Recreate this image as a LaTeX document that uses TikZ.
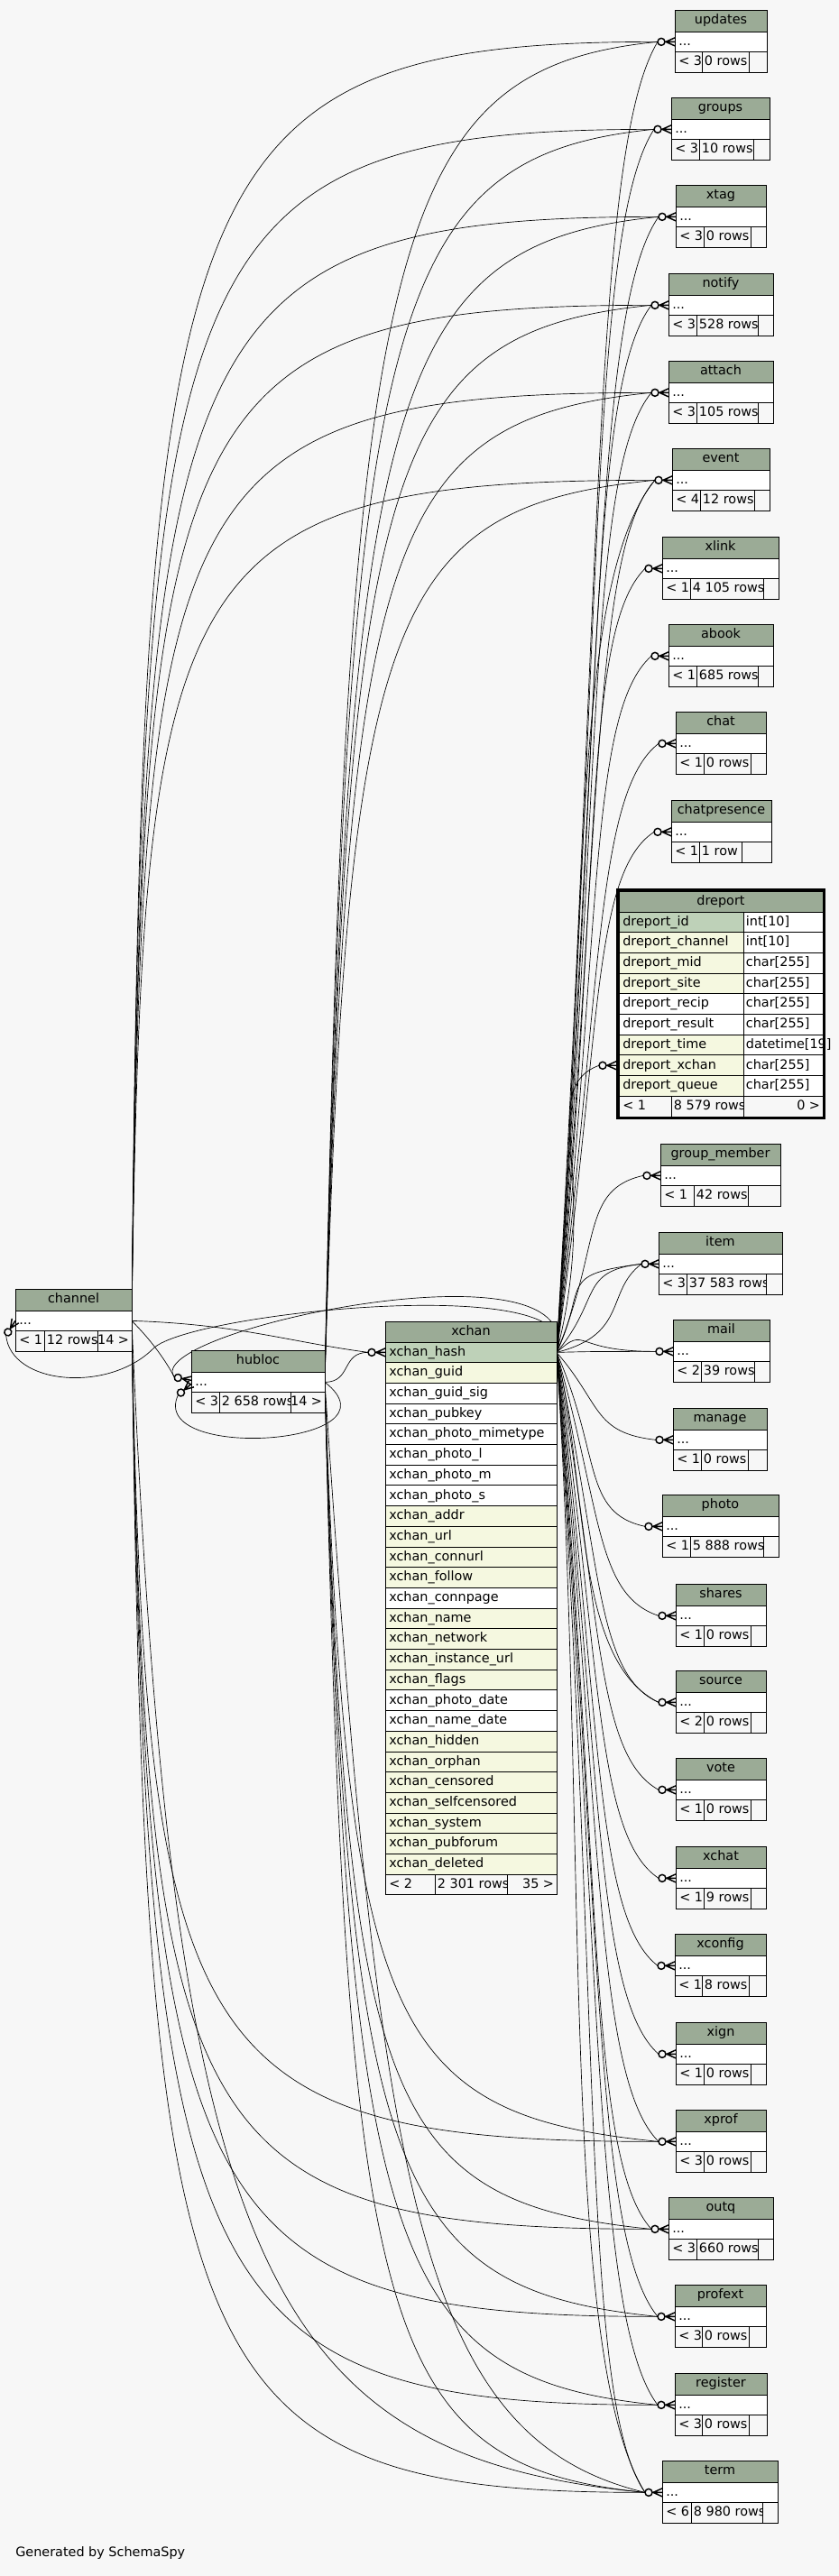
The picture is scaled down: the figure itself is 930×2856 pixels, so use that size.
\documentclass[tikz,border=0pt]{standalone}
\usepackage{fontspec}
\newfontfamily\tabfont{DejaVu Sans}
\usetikzlibrary{calc}
\definecolor{pageBg}{RGB}{247,247,247}
\definecolor{headBg}{RGB}{155,171,150}
\definecolor{keyBg}{RGB}{190,209,184}
\definecolor{idxBg}{RGB}{245,248,224}
\pgfdeclarelayer{bg}
\pgfdeclarelayer{edges}
\pgfsetlayers{bg,edges,main}
\newcommand{\tfont}{\tabfont\fontsize{10.8}{13}\selectfont}

% small table: name, left, top, right, col1 end, col2 end, parents, rows, children
\newcommand{\smalltbl}[9]{%
  \node[thead, minimum width={(#4-#2)*0.75pt}] (#1-h) at (#2,#3) {\detokenize{#1}};
  \node[tcell, fill=white, minimum width={(#4-#2)*0.75pt}] (#1) at (#1-h.south west) {};
  \node[tlbl] (#1-l) at ([xshift=3pt]#1.west) {...};
  \node[tfoot, minimum width={(#5-#2)*0.75pt}] (#1-f1) at (#1.south west) {};
  \node[tfoot, minimum width={(#6-#5)*0.75pt}] (#1-f2) at (#1-f1.north east) {};
  \node[tfoot, minimum width={(#4-#6)*0.75pt}] (#1-f3) at (#1-f2.north east) {};
  \begin{scope}
    \clip (#1-f1.south west) rectangle (#1-f1.north east);
    \node[tlbl] (#1-p) at ([xshift=3pt]#1-f1.west) {< #7};
  \end{scope}
  \begin{scope}
    \clip (#1-f2.south west) rectangle (#1-f2.north east);
    \node[tlbl] (#1-r) at ([xshift=2pt]#1-f2.west) {#8};
  \end{scope}
  \node[tlbl, anchor=east] (#1-c) at ([xshift=-2pt]#1-f3.east) {#9};
}

% zero-or-many end: port, angle into the table
\newcommand{\crowmark}[2]{%
  \begin{scope}[shift={(#1)}, rotate=#2]
    \draw[crow] (-11,0) -- (-10,0) -- (0,-4.5) (-10,0) -- (0,0) (-10,0) -- (0,4.5);
    \draw[crow, fill=pageBg] (-15,0) circle[radius=4];
  \end{scope}}

\begin{document}
\begin{tikzpicture}[x=0.75pt, y=-0.75pt,
  tcell/.style={draw=black, line width=0.75pt, inner sep=0pt, outer sep=0pt,
                anchor=north west, minimum height=17.025pt},
  thead/.style={tcell, fill=headBg, minimum height=18pt, font=\tfont,
                text height=8pt, text depth=2.3pt},
  tfoot/.style={tcell, fill=pageBg},
  tlbl/.style ={inner sep=0pt, anchor=west, font=\tfont, text height=8pt, text depth=2.3pt},
  fk/.style   ={draw=black, line width=0.5pt},
  crow/.style ={draw=black, line width=1.1pt},
]
\useasboundingbox (0,0) rectangle (930,2856);
\begin{pgfonlayer}{bg}
  \fill[pageBg] (0,0) rectangle (930,2856);
\end{pgfonlayer}

% ============ LEFT : channel, hubloc ============
\smalltbl{channel}{17}{1429}{146}{49}{108}{1}{12 rows}{14 >}
\smalltbl{hubloc}{212}{1497}{360}{243}{322}{3}{2 658 rows}{14 >}

% ============ CENTRE : xchan ============
\node[thead, minimum width=142.5pt, minimum height=17.25pt] (xchan-0) at (427,1465) {xchan};
\foreach \c/\f [count=\i, remember=\i as \j (initially 0)] in
  {hash/keyBg, guid/idxBg, guid\_sig/white, pubkey/white, photo\_mimetype/white,
   photo\_l/white, photo\_m/white, photo\_s/white, addr/idxBg, url/idxBg,
   connurl/idxBg, follow/idxBg, connpage/white, name/idxBg, network/idxBg,
   instance\_url/idxBg, flags/idxBg, photo\_date/white, name\_date/white,
   hidden/idxBg, orphan/idxBg, censored/idxBg, selfcensored/idxBg,
   system/idxBg, pubforum/idxBg, deleted/idxBg}{
  \node[tcell, fill=\f, minimum width=142.5pt] (xchan-\i) at (xchan-\j.south west) {};
  \node[tlbl] (xchan-l\i) at ([xshift=3pt]xchan-\i.west) {xchan\_\c};
}
\node[tfoot, minimum width=41.25pt] (xchan-f1) at (xchan-26.south west) {};
\node[tfoot, minimum width=60pt]    (xchan-f2) at (xchan-f1.north east) {};
\node[tfoot, minimum width=41.25pt] (xchan-f3) at (xchan-f2.north east) {};
\node[tlbl] (xchan-p) at ([xshift=3pt]xchan-f1.west) {< 2};
\begin{scope}
  \clip (xchan-f2.south west) rectangle (xchan-f2.north east);
  \node[tlbl] (xchan-r) at ([xshift=2pt]xchan-f2.west) {2 301 rows};
\end{scope}
\node[tlbl, anchor=east] (xchan-c) at ([xshift=-2pt]xchan-f3.east) {35 >};

% ============ RIGHT : dreport ============
\node[thead, minimum width=169.5pt, minimum height=17.25pt] (dreport-0) at (686,988) {dreport};
\foreach \c/\ty/\f [count=\i, remember=\i as \j (initially 0)] in
  {id/int[10]/keyBg, channel/int[10]/idxBg, mid/char[255]/idxBg, site/char[255]/idxBg,
   recip/char[255]/white, result/char[255]/white, time/datetime[19]/idxBg,
   xchan/char[255]/idxBg, queue/char[255]/idxBg}{
  \node[tcell, fill=\f, minimum width=103.5pt] (dreport-\i) at (dreport-\j.south west) {};
  \node[tcell, fill=white, minimum width=66pt] (dreport-t\i) at (dreport-\i.north east) {};
  \node[tlbl] (dreport-l\i) at ([xshift=3pt]dreport-\i.west) {dreport\_\c};
  \node[tlbl] (dreport-k\i) at ([xshift=2pt]dreport-t\i.west) {\ty};
}
\node[tfoot, minimum width=43.5pt] (dreport-f1) at (dreport-9.south west) {};
\node[tfoot, minimum width=60pt]   (dreport-f2) at (dreport-f1.north east) {};
\node[tfoot, minimum width=66pt]   (dreport-f3) at (dreport-f2.north east) {};
\node[tlbl] (dreport-p) at ([xshift=3pt]dreport-f1.west) {< 1};
\begin{scope}
  \clip (dreport-f2.south west) rectangle (dreport-f2.north east);
  \node[tlbl] (dreport-r) at ([xshift=2pt]dreport-f2.west) {8 579 rows};
\end{scope}
\node[tlbl, anchor=east] (dreport-c) at ([xshift=-2pt]dreport-f3.east) {0 >};
\draw[line width=2.25pt] ([shift={(-1.1pt,1.1pt)}]dreport-0.north west)
  rectangle ([shift={(1.1pt,-1.1pt)}]dreport-f3.south east);

% ============ RIGHT COLUMN ============
\smalltbl{updates}{748}{11}{850}{778}{830}{3}{0 rows}{}
\smalltbl{groups}{744}{108}{853}{775}{835}{3}{10 rows}{}
\smalltbl{xtag}{749}{205}{849}{780}{832}{3}{0 rows}{}
\smalltbl{notify}{741}{303}{857}{772}{840}{3}{528 rows}{}
\smalltbl{attach}{741}{400}{857}{772}{840}{3}{105 rows}{}
\smalltbl{event}{745}{497}{853}{776}{836}{4}{12 rows}{}
\smalltbl{xlink}{734}{595}{863}{765}{846}{1}{4 105 rows}{}
\smalltbl{abook}{741}{692}{857}{772}{840}{1}{685 rows}{}
\smalltbl{chat}{749}{789}{849}{780}{832}{1}{0 rows}{}
\smalltbl{chatpresence}{744}{887}{855}{775}{822}{1}{1 row}{}
\smalltbl{group_member}{732}{1268}{865}{769}{829}{1}{42 rows}{}
\smalltbl{item}{730}{1366}{867}{761}{849}{3}{37 583 rows}{}
\smalltbl{mail}{746}{1463}{853}{777}{836}{2}{39 rows}{}
\smalltbl{manage}{746}{1561}{850}{777}{829}{1}{0 rows}{}
\smalltbl{photo}{734}{1657}{863}{765}{846}{1}{5 888 rows}{}
\smalltbl{shares}{749}{1756}{849}{780}{832}{1}{0 rows}{}
\smalltbl{source}{749}{1852}{849}{780}{832}{2}{0 rows}{}
\smalltbl{vote}{749}{1949}{849}{780}{832}{1}{0 rows}{}
\smalltbl{xchat}{749}{2047}{849}{780}{832}{1}{9 rows}{}
\smalltbl{xconfig}{748}{2144}{849}{778}{830}{1}{8 rows}{}
\smalltbl{xign}{749}{2242}{849}{780}{832}{1}{0 rows}{}
\smalltbl{xprof}{749}{2339}{849}{780}{832}{3}{0 rows}{}
\smalltbl{outq}{741}{2436}{857}{772}{840}{3}{660 rows}{}
\smalltbl{profext}{748}{2533}{849}{778}{830}{3}{0 rows}{}
\smalltbl{register}{748}{2631}{850}{778}{830}{3}{0 rows}{}
\smalltbl{term}{734}{2728}{862}{766}{845}{6}{8 980 rows}{}

% ============ PORTS + MARKERS ============
\foreach \tb in {updates,groups,xtag,notify,attach,event,xlink,abook,chat,chatpresence,
  group_member,item,mail,manage,photo,shares,source,vote,xchat,xconfig,xign,xprof,
  outq,profext,register,term}{
  \coordinate (\tb-in) at ([xshift=-14.25pt]\tb.west);
  \crowmark{\tb.west}{0}
}
\coordinate (dreport-port) at ([xshift=-2.25pt]dreport-8.west);
\coordinate (dreport-in) at ([xshift=-14.25pt]dreport-port);
\crowmark{dreport-port}{0}
\coordinate (xchan-in) at ([xshift=-14.25pt]xchan-1.west);
\crowmark{xchan-1.west}{0}
\coordinate (channel-in) at ([shift={(237:14.25pt)}]channel.west);
\crowmark{channel.west}{57}
\coordinate (hubloc-p1) at ([yshift=1.5pt]hubloc.west);
\coordinate (hubloc-p2) at ([yshift=-1.5pt]hubloc.west);
\coordinate (hubloc-in1) at ([shift={(169:14.25pt)}]hubloc-p1);
\coordinate (hubloc-in2) at ([shift={(220:14.25pt)}]hubloc-p2);
\crowmark{hubloc-p1}{-11}
\crowmark{hubloc-p2}{40}
\coordinate (chloop) at (170,1495);

% ============ RELATIONSHIPS ============
\begin{pgfonlayer}{edges}
  % channel
  \foreach \tb/\y in {updates/46,groups/143,xtag/240,notify/338,attach/435,event/532}{
    \pgfmathsetmacro\dyy{1464-\y}
    \draw[fk] (channel.east) .. controls +(12,-0.9*\dyy) and +(-540,0) .. (\tb-in);
  }
  \foreach \tb/\y in {xprof/2374,outq/2471,profext/2568,register/2666,term/2763}{
    \pgfmathsetmacro\dyy{\y-1464}
    \draw[fk] (channel.east) .. controls +(15,0.9*\dyy) and +(-520,0) .. (\tb-in);
  }
  \draw[fk] (channel.east) .. controls +(45,1050) and +(-420,-40) .. (term-in);
  \draw[fk] (channel.east) .. controls +(120,4) and +(-90,-12) .. (xchan-in);
  \draw[fk] (channel.east) .. controls +(20,20) and +(-12,-22) .. (hubloc-in1);

  % hubloc
  \foreach \tb/\y in {updates/46,groups/143,xtag/240,notify/338,attach/435,event/532}{
    \pgfmathsetmacro\dyy{1532-\y}
    \draw[fk] (hubloc.east) .. controls +(25,-0.85*\dyy) and +(-300,30) .. (\tb-in);
  }
  \foreach \tb/\y in {xprof/2374,outq/2471,profext/2568,register/2666,term/2763}{
    \pgfmathsetmacro\dyy{\y-1532}
    \draw[fk] (hubloc.east) .. controls +(25,0.85*\dyy) and +(-300,-30) .. (\tb-in);
  }
  \draw[fk] (hubloc.east) .. controls +(60,900) and +(-250,-60) .. (term-in);
  \draw[fk] (hubloc.east) .. controls +(30,0) and +(-30,0) .. (xchan-in);
  \draw[fk] (hubloc.east) .. controls +(90,70) and +(-35,75) .. (hubloc-in2);

  % xchan
  \foreach \tb/\y in {updates/46,groups/143,xtag/240,notify/338,attach/435,event/532,
    xlink/630,abook/727,chat/824,chatpresence/922,dreport/1180,group_member/1303,
    item/1401,mail/1498,manage/1596,photo/1692,shares/1791,source/1887,vote/1984,
    xchat/2082,xconfig/2179,xign/2277,xprof/2374,outq/2471,profext/2568,
    register/2666,term/2763}{
    \pgfmathsetmacro\dyy{\y-1500}
    \draw[fk] (xchan-1.east) .. controls +(50,0.6*\dyy) and +(-70,-0.08*\dyy) .. (\tb-in);
  }
  \foreach \tb/\y in {event/532,item/1401,mail/1498,source/1887,term/2763}{
    \pgfmathsetmacro\dyy{\y-1500}
    \draw[fk] (xchan-1.east) .. controls +(35,0.45*\dyy-30) and +(-95,-0.12*\dyy) .. (\tb-in);
  }
  \draw[fk] (xchan-1.east) .. controls +(80,-20) and +(-40,30) .. (item-in);
  \draw[fk] (xchan-1.east) .. controls +(35,-130) and +(-40,-50) .. (hubloc-in1);
  \draw[fk] (xchan-1.east) .. controls +(40,-90) and +(40,-40) .. (chloop)
    .. controls +(-50,50) and +(5,55) .. (channel-in);
\end{pgfonlayer}

\node[tlbl] (credit) at (17,2831) {Generated by SchemaSpy};

\end{tikzpicture}
\end{document}
